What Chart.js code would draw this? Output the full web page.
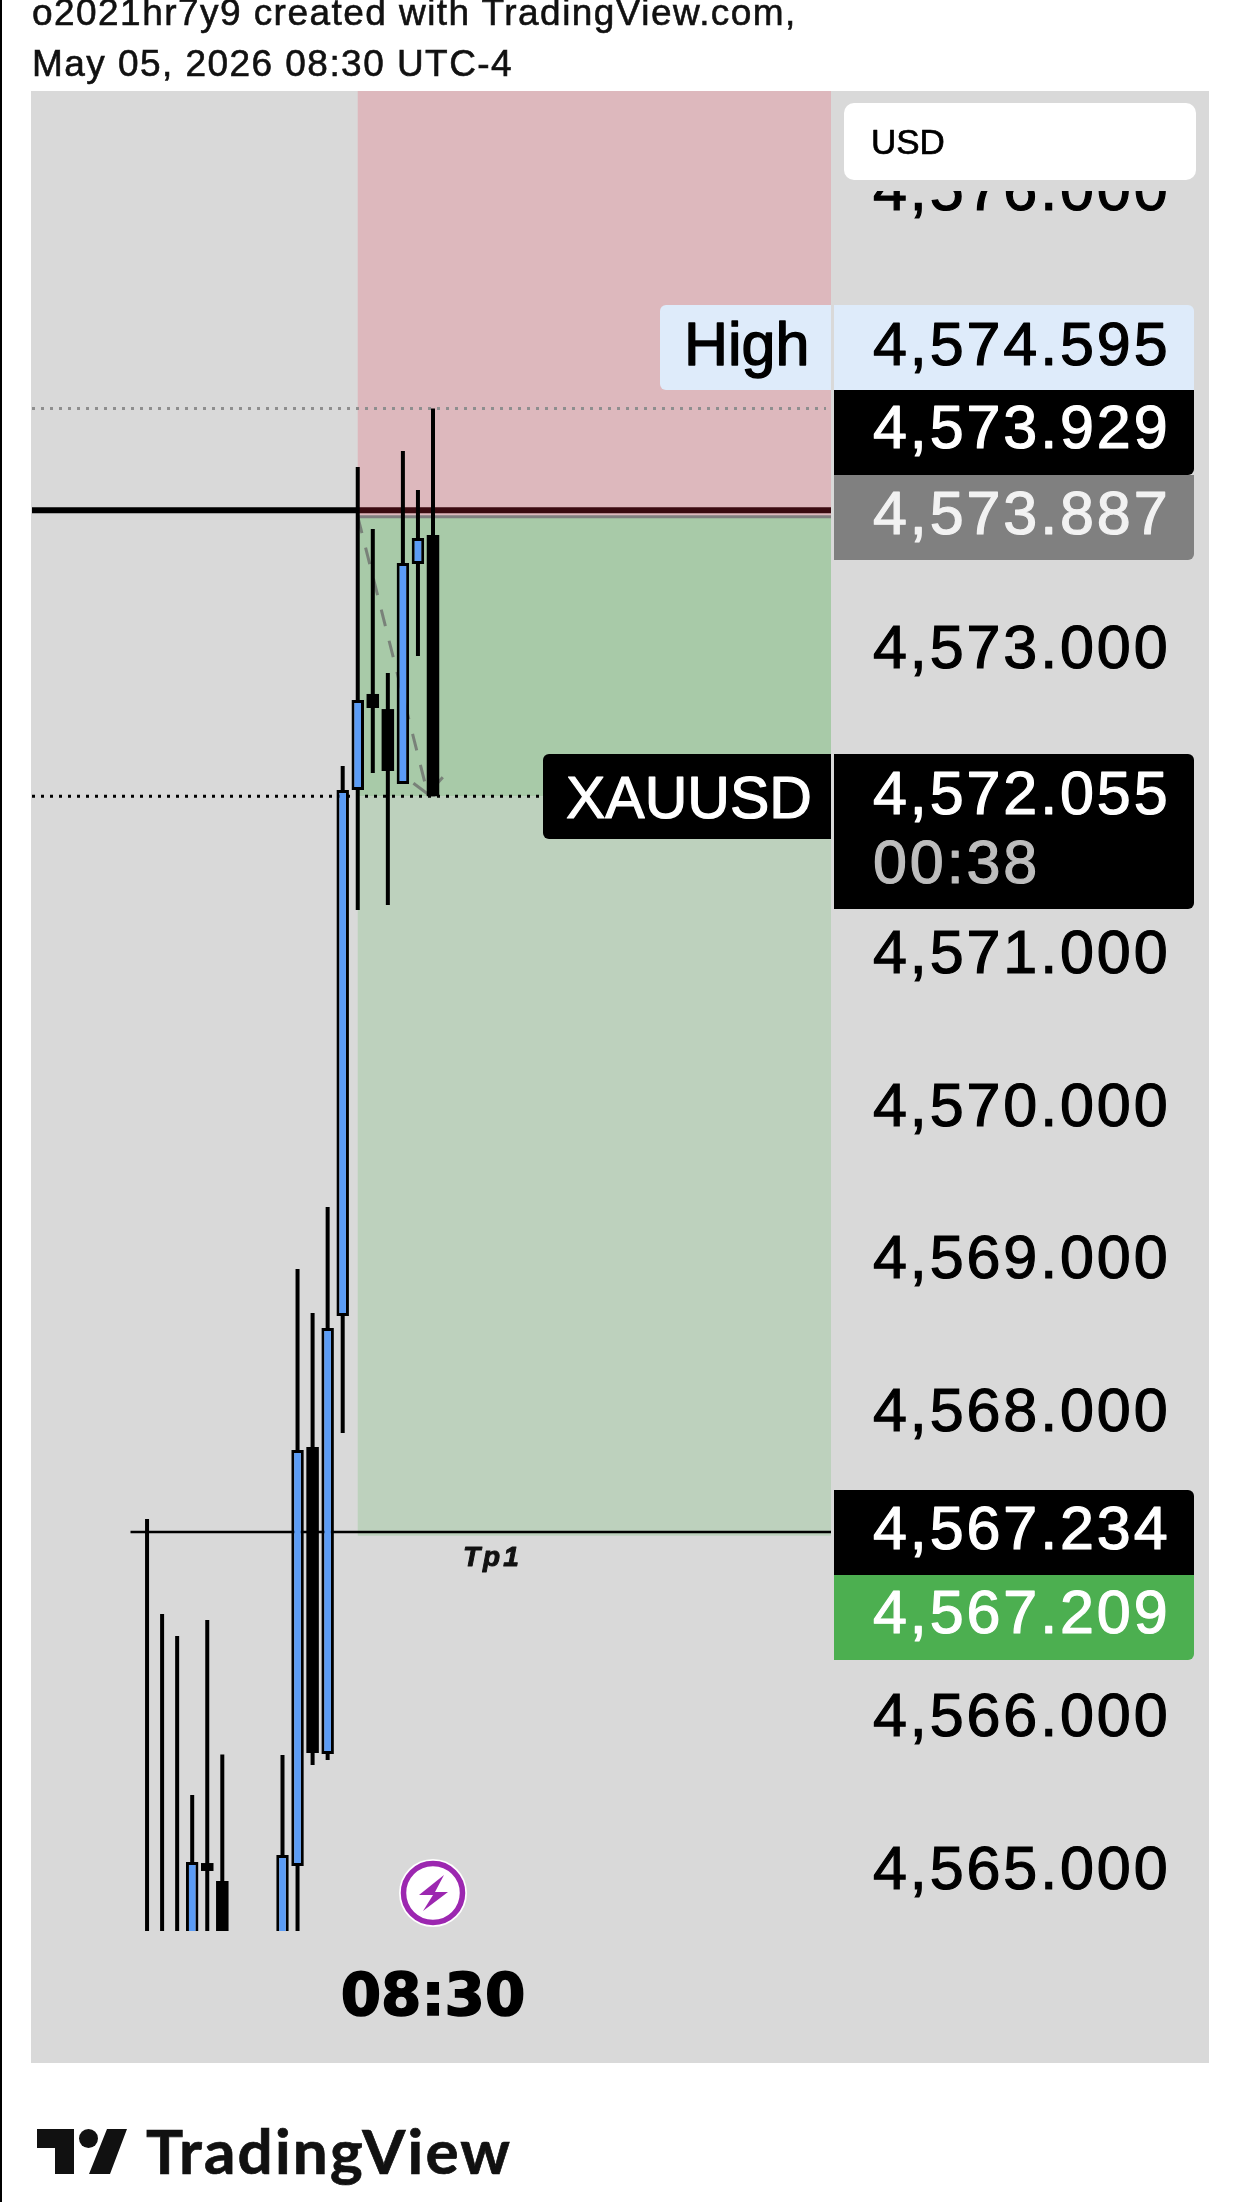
<!DOCTYPE html>
<html>
<head>
<meta charset="utf-8">
<script src="https://cdn.jsdelivr.net/npm/chart.js@4"></script>
<style>
html,body{margin:0;padding:0;background:#fff;width:1240px;height:2202px;overflow:hidden}
#c{position:absolute;left:0;top:0}
.h{position:absolute;left:32px;font:37px "Liberation Sans",sans-serif;letter-spacing:1.45px;color:#111;white-space:nowrap;line-height:40px;-webkit-text-stroke:.6px #111}
#edge{position:absolute;left:0;top:0;width:2px;height:2202px;background:#000}
#logo{position:absolute;left:0;top:2100px}
#brand{position:absolute;left:146px;top:2110px;font:700 62px Lato,sans-serif;color:#111;line-height:80px;white-space:nowrap;letter-spacing:2.15px;-webkit-text-stroke:.7px #111}
</style>
</head>
<body>
<canvas id="c" width="1240" height="2202"></canvas>
<div class="h" style="top:-7px">o2021hr7y9 created with TradingView.com,</div>
<div class="h" style="top:44px">May 05, 2026 08:30 UTC-4</div>
<div id="edge"></div>
<svg id="logo" width="140" height="90" viewBox="0 0 140 90">
<path d="M37 29H74V74H55V48H37Z M107 29H127L110 74H89Z" fill="#111"/><circle cx="88.5" cy="38.5" r="9.5" fill="#111"/>
</svg>
<div id="brand">TradingView</div>
<script>
// Candle times as minutes of the day; 08:30 = 510
const minutes = [491,492,493,494,495,496,497,498,499,500,501,502,503,504,505,506,507,508,509,510];
const opens  = [4564.1,4564.0,4564.2,4564.5,4565.064,4564.946,null,null,null,4564.5,4565.045,4567.790,4565.779,4568.649,4572.096,4572.725,4572.626,4572.135,4573.577,4573.767];
const highs  = [4567.319,4566.696,4566.552,4565.510,4566.657,4565.775,null,null,null,4565.772,4568.957,4568.668,4569.363,4572.253,4574.212,4573.806,4572.862,4574.317,4574.062,4574.595];
const lows   = [4563.9,4563.8,4564.0,4564.3,4564.3,4564.2,null,null,null,4564.3,4564.4,4565.706,4565.739,4567.882,4571.309,4572.207,4571.342,4572.135,4572.974,4572.055];
const closes = [4564.4,4564.3,4564.4,4565.071,4565.012,4564.4,null,null,null,4565.117,4567.771,4565.785,4568.570,4572.096,4572.685,4572.633,4572.220,4573.583,4573.747,4572.055];

const priceTicks = [4565,4566,4567,4568,4569,4570,4571,4572,4573,4574,4575,4576];
const timeTickValue = 510;
const timeTickLabel = '08:30';

const entryPrice = 4573.887, stopPrice = 4573.929, targetPrice = 4567.209, tp1Price = 4567.234;
const lastPrice = 4572.055, highPrice = 4574.595;
const positionStartMinute = 505;
const tp1StartMinute = 489.9;
const tp1Label = 'Tp1';
const arrowMinutes = [505, 509.65], arrowPrices = [4573.887, 4572.07];
const arrowHeadMinutes = [508.7, 509.65, 510.65], arrowHeadPrices = [4572.14, 4572.07, 4572.18];

const fontP = '"Liberation Sans",sans-serif';
const BLUE = '#5b9cf6';

function txt(ctx,s,x,y,font,color,sp,st){ctx.save();ctx.font=font;ctx.fillStyle=color;ctx.textBaseline='alphabetic';ctx.textAlign='left';ctx.letterSpacing=(sp||0)+'px';ctx.fillText(s,x,y);if(st!==0){ctx.strokeStyle=color;ctx.lineWidth=st||1.2;ctx.lineJoin='round';ctx.strokeText(s,x,y);}ctx.restore();}
function box(ctx,x0,y0,x1,y1,c,r){ctx.save();ctx.fillStyle=c;ctx.beginPath();ctx.roundRect(x0,y0,x1-x0,y1-y0,r||0);ctx.fill();ctx.restore();}
function hline(ctx,x0,x1,y,c,w,dash){ctx.save();ctx.strokeStyle=c;ctx.lineWidth=w;ctx.setLineDash(dash||[]);ctx.beginPath();ctx.moveTo(x0,y);ctx.lineTo(x1,y);ctx.stroke();ctx.restore();}

const overlay = {
  id:'overlay',
  beforeDraw(ch){ box(ch.ctx,31,91,1209,2063,'#d9d9d9'); },
  beforeDatasetsDraw(ch){
    const {ctx,chartArea:a,scales:{x,y}} = ch;
    const L = x.getPixelForValue(positionStartMinute);
    const yE=y.getPixelForValue(entryPrice), yS=y.getPixelForValue(stopPrice), yT=y.getPixelForValue(targetPrice), yC=y.getPixelForValue(lastPrice), yH=y.getPixelForValue(highPrice), yP=y.getPixelForValue(tp1Price);
    box(ctx,L,a.top,a.right,yE,'#ddb8bd');
    box(ctx,L,yE,a.right,yC,'#a8caa8');
    box(ctx,L,yC,a.right,yT,'#bdd1bd');
    hline(ctx,a.left,L,yS,'#000',6);
    hline(ctx,L,a.right,yS,'#3a0a10',6);
    hline(ctx,L,a.right,yE,'#808080',3);
    hline(ctx,a.left,826,yH,'#8e8e8e',3,[3,6]);
    hline(ctx,a.left,a.right,yC,'#000',3,[3,6]);
    hline(ctx,x.getPixelForValue(tp1StartMinute),a.right,yP,'#000',2.5);
    txt(ctx,tp1Label,463,1566,'italic bold 28px '+fontP,'#111',3,1);
  },
  afterDraw(ch){
    const ctx=ch.ctx, f='61px '+fontP, s=2.9;
    // cover clipped top tick and currency box
    box(ctx,832,91,1209,191,'#d9d9d9');
    box(ctx,844,103,1196,180,'#fff',10);
    txt(ctx,'USD',871,154,'35px '+fontP,'#000',0,0.7);
    // High
    box(ctx,660,305,831,390,'#deebfa',[6,0,0,6]);
    box(ctx,834,305,1194,390,'#deebfa',[0,6,0,0]);
    txt(ctx,'High',684,365,'61px '+fontP,'#000',0,1.4);
    txt(ctx,'4,574.595',873,365,f,'#000',s);
    box(ctx,834,390,1194,475,'#000',[0,0,6,0]);
    txt(ctx,'4,573.929',873,448,f,'#fff',s);
    box(ctx,834,475,1194,560,'#808080',[0,0,6,0]);
    txt(ctx,'4,573.887',873,534,f,'#f2f2f2',s);
    // XAUUSD
    box(ctx,543,754,831,839,'#000',[6,0,0,6]);
    txt(ctx,'XAUUSD',566,818,'59px '+fontP,'#fff',0);
    box(ctx,834,754,1194,909,'#000',[0,6,6,0]);
    txt(ctx,'4,572.055',873,814,f,'#fff',s);
    txt(ctx,'00:38',873,883,f,'#bdbdbd',s);
    // target
    box(ctx,834,1490,1194,1575,'#000',[0,6,0,0]);
    txt(ctx,'4,567.234',873,1549,f,'#fff',s);
    box(ctx,834,1575,1194,1660,'#4caf50',[0,0,6,0]);
    txt(ctx,'4,567.209',873,1633,f,'#fff',s);
    // lightning icon
    const cx=ch.scales.x.getPixelForValue(timeTickValue), cy=1893;
    ctx.save();
    ctx.fillStyle='#fff';ctx.beginPath();ctx.arc(cx,cy,34,0,7);ctx.fill();
    ctx.strokeStyle='#9c27b0';ctx.lineWidth=5.5;ctx.beginPath();ctx.arc(cx,cy,29.5,0,7);ctx.stroke();
    ctx.fillStyle='#9c27b0';ctx.beginPath();
    [[11,-18],[-14,2],[0,2],[-10,18],[15,-1],[2,-1]].forEach((p,i)=>i?ctx.lineTo(cx+p[0],cy+p[1]):ctx.moveTo(cx+p[0],cy+p[1]));
    ctx.closePath();ctx.fill();
    ctx.restore();
  }
};

const pts = (a,b)=>a.map((v,i)=>({x:v,y:b[i]}));
new Chart(document.getElementById('c'),{
  type:'bar',
  data:{datasets:[
    {type:'line',order:4,data:pts(arrowMinutes,arrowPrices),borderColor:'rgba(105,105,105,.75)',borderWidth:3,borderDash:[17,15],pointRadius:0,fill:false,clip:0},
    {type:'line',order:3,data:pts(arrowHeadMinutes,arrowHeadPrices),borderColor:'rgba(105,105,105,.75)',borderWidth:3,pointRadius:0,fill:false,clip:0},
    {order:2,data:minutes.map((m,i)=>({x:m,y:lows[i]===null?null:[lows[i],highs[i]]})),backgroundColor:'#000',barThickness:4,borderWidth:0,inflateAmount:0,grouped:false,clip:0},
    {order:1,data:minutes.map((m,i)=>({x:m,y:opens[i]===null?null:[opens[i],closes[i]]})),
      backgroundColor:minutes.map((m,i)=>closes[i]>=opens[i]?BLUE:'#000'),borderColor:'#000',
      borderWidth:minutes.map((m,i)=>closes[i]>=opens[i]?3:0),borderSkipped:false,barThickness:12.5,inflateAmount:0,grouped:false,clip:0}
  ]},
  plugins:[overlay],
  options:{
    responsive:false,animation:false,devicePixelRatio:1,
    layout:{padding:{left:32,right:31,top:91,bottom:139}},
    plugins:{legend:{display:false},tooltip:{enabled:false},title:{display:false}},
    scales:{
      x:{type:'linear',offset:false,min:510-(433-32)/15.05,max:510+(831-433)/15.05,
         grid:{display:false},border:{display:false},
         afterBuildTicks(s){s.ticks=[{value:timeTickValue}];},
         afterFit(s){s.height=132;},
         ticks:{autoSkip:false,maxRotation:0,padding:26,color:'#000',textStrokeColor:'#000',textStrokeWidth:1.6,font:{family:'"DejaVu Sans"',weight:'bold',size:58},callback:()=>timeTickLabel}},
      y:{type:'linear',position:'right',min:4573-(1931-652)/152.6,max:4573+(652-91)/152.6,
         grid:{display:false},border:{display:false},
         afterBuildTicks(s){s.ticks=priceTicks.map(v=>({value:v}));},
         afterFit(s){s.width=378;
           if(!s._patched){s._patched=true;const o=s.drawLabels;s.drawLabels=function(a){this.ctx.save();this.ctx.letterSpacing='2.9px';o.call(this,a);this.ctx.restore();};}},
         ticks:{autoSkip:false,padding:34,crossAlign:'near',align:'center',color:'#000',textStrokeColor:'#000',textStrokeWidth:1.2,labelOffset:-1,font:{family:'"Liberation Sans"',size:61},
           callback:v=>v.toLocaleString('en-US',{minimumFractionDigits:3,maximumFractionDigits:3})}}
    }
  }
});
</script>
</body>
</html>
